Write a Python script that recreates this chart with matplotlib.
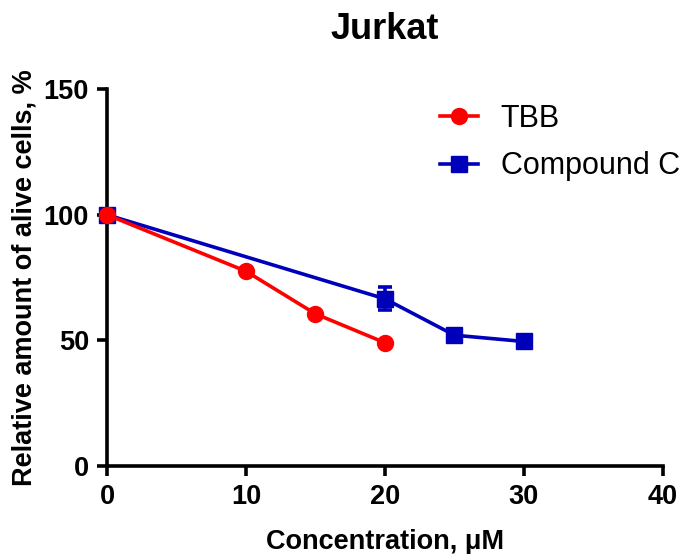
import matplotlib
matplotlib.use("Agg")
import matplotlib.pyplot as plt
from matplotlib.lines import Line2D

plt.rcParams['font.family'] = ['Liberation Sans', 'DejaVu Sans']

tbb_x = [0, 10, 15, 20]
tbb_y = [100, 77.5, 60.5, 49]
tbb_err = [0, 0, 0, 0]

cc_x = [0, 20, 25, 30]
cc_y = [100, 66.5, 52, 49.5]
cc_err = [0, 4.6, 0, 0]

xticks = [0, 10, 20, 30, 40]
yticks = [0, 50, 100, 150]

fig = plt.figure(figsize=(6.87, 5.54), dpi=100)
ax = fig.add_axes([0.1557, 0.1594, 0.8093, 0.6794])

red = '#ff0000'
blue = '#0000bb'
lw = 2.6

ax.errorbar(cc_x, cc_y, yerr=cc_err, color=blue, marker='s', markersize=11,
            linewidth=lw, capsize=5, capthick=lw, elinewidth=lw,
            clip_on=False, zorder=3)
ax.errorbar(tbb_x, tbb_y, yerr=tbb_err, color=red, marker='o', markersize=11.5,
            linewidth=lw, capsize=0, clip_on=False, zorder=4)

ax.set_xlim(0, 40)
ax.set_ylim(0, 150)
ax.set_xticks(xticks)
ax.set_yticks(yticks)

for s in ['top', 'right']:
    ax.spines[s].set_visible(False)
for s in ['left', 'bottom']:
    ax.spines[s].set_linewidth(lw)
ax.tick_params(axis='both', width=lw, length=7, labelsize=19.5, pad=6)
for lab in ax.get_xticklabels() + ax.get_yticklabels():
    lab.set_fontweight('bold')

ax.set_title('Jurkat', fontsize=26, fontweight='bold', pad=36)
ax.set_xlabel('Concentration, \u03bcM', fontsize=19.5, fontweight='bold', labelpad=14)
ax.set_ylabel('Relative amount of alive cells, %', fontsize=19.5, fontweight='bold', labelpad=4)

h_tbb = Line2D([], [], color=red, marker='o', markersize=11.5, linewidth=lw)
h_cc = Line2D([], [], color=blue, marker='s', markersize=11, linewidth=lw)
fig.legend([h_tbb, h_cc], ['TBB', 'Compound C'], loc='upper left',
           bbox_to_anchor=(0.640, 0.813), frameon=False, fontsize=22,
           handlelength=1.25, handletextpad=0.75, labelspacing=0.58,
           borderpad=0, borderaxespad=0)

fig.savefig('out.png', dpi=100)
